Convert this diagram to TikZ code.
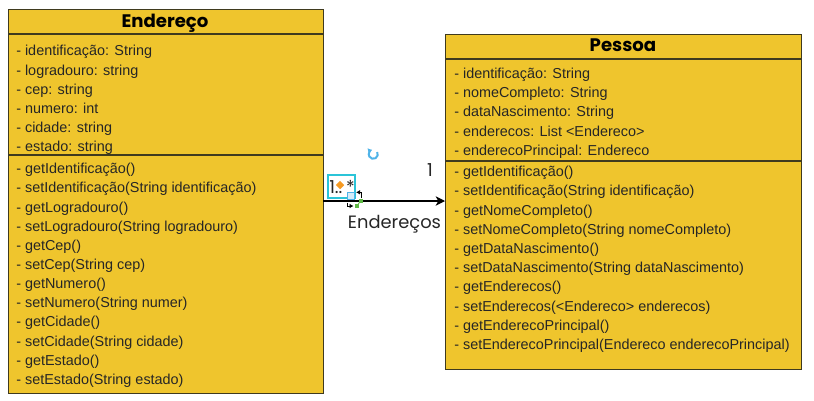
\documentclass[tikz,border=0pt]{standalone}
\usepackage{fontspec}
\setmainfont{Liberation Sans}
\newfontfamily\titlefont{Poppins}
\usetikzlibrary{positioning,arrows.meta}
\definecolor{classfill}{HTML}{EFC52D}
\definecolor{classline}{HTML}{3F3A1E}
\definecolor{handlecyan}{HTML}{2BC4D8}
\definecolor{handleblue}{HTML}{4FB3E8}
\definecolor{handleorange}{HTML}{F59A23}
\definecolor{handlegreen}{HTML}{5FB946}
\begin{document}
\begin{tikzpicture}[x=0.75pt,y=-0.75pt]
  \tikzstyle{classbox} = [draw=classline,fill=classfill,line width=0.9pt,inner sep=0pt,anchor=north west] %class outline
  \tikzstyle{sep} = [draw=classline,line width=0.9pt] %compartment line
  \tikzstyle{title} = [font=\titlefont\bfseries\fontsize{13.6}{15}\selectfont,text=black,anchor=base]
  \tikzstyle{member} = [font=\fontsize{10.8}{12}\selectfont,text=black!85,anchor=base west,inner sep=0pt,yshift=-4.1pt]
  \tikzstyle{lbl} = [font=\titlefont\fontsize{13.4}{15}\selectfont,text=black!85,anchor=base,inner sep=0pt]
  \tikzstyle{tinyarrow} = [-{Latex[length=3pt,width=3.5pt]},line width=0.6pt]
  \tikzstyle{greendot} = [fill=handlegreen,minimum size=3pt,inner sep=0pt]
  \useasboundingbox (0,0) rectangle (814,400);
  % Endereco
  \node[classbox,minimum width=315*0.75pt,minimum height=384*0.75pt](endereco)at(8,9){};
  \node[title]at(165,27){Endereço};
  \coordinate(ea)at(8,34);
  \coordinate(eb)at(323,34);
  \coordinate(ec)at(8,155);
  \coordinate(ed)at(323,155);
  \draw[sep](ea)--(eb);
  \draw[sep](ec)--(ed);
  \foreach \y/\t in {50.5/identificação: String,70/logradouro: string,89/cep: string,
    108/numero: int,127/cidade: string,146/estado: string,
    168/getIdentificação(),187/setIdentificação(String identificação),
    207/getLogradouro(),226/setLogradouro(String logradouro),245/getCep(),
    264/setCep(String cep),283/getNumero(),302/setNumero(String numer),
    321/getCidade(),341/setCidade(String cidade),360/getEstado(),379/setEstado(String estado)}
    \node[member]at(16,\y){- \t};
  % Pessoa
  \node[classbox,minimum width=356*0.75pt,minimum height=335*0.75pt](pessoa)at(445,34){};
  \node[title]at(623,51.7){Pessoa};
  \coordinate(pa)at(445,59);
  \coordinate(pb)at(801,59);
  \coordinate(pc)at(445,161);
  \coordinate(pd)at(801,161);
  \draw[sep](pa)--(pb);
  \draw[sep](pc)--(pd);
  \foreach \y/\t in {73/identificação: String,92/nomeCompleto: String,111/dataNascimento: String,
    131/enderecos: List <Endereco>,150/enderecoPrincipal: Endereco,
    171/getIdentificação(),190/setIdentificação(String identificação),
    210/getNomeCompleto(),229/setNomeCompleto(String nomeCompleto),
    248/getDataNascimento(),267/setDataNascimento(String dataNascimento),
    286/getEnderecos(),306/setEnderecos(<Endereco> enderecos),
    325/getEnderecoPrincipal(),344/setEnderecoPrincipal(Endereco enderecoPrincipal)}
    \node[member]at(454,\y){- \t};
  % association
  \coordinate(from)at(323,201);
  \coordinate(to)at(445,201);
  \draw[-{Stealth[length=7pt,width=7pt,inset=2pt]},line width=0.9pt,black](from)--(to);
  \node[lbl](rolename)at(394.5,228){Endereços};
  \node[lbl](multone)at(430,176){1};
  % editor handles
  \node[draw=handlecyan,line width=1.5pt,minimum width=27*0.75pt,minimum height=22.5*0.75pt,inner sep=0pt,anchor=north west](handle)at(327.3,174.3){};
  \node[lbl,anchor=base west](multmany)at(329,193){1..};
  \node[lbl](star)at(350.5,193){*};
  \node[fill=handleorange,draw=none,rotate=45,minimum size=4.5pt,inner sep=0pt](dia)at(340,185){};
  \node[draw=handleblue,fill=handleblue!25,minimum size=5pt,inner sep=0pt,line width=0.7pt](sq)at(351,196){};
  \node[greendot](ga)at(360.7,200.7){};
  \node[greendot](gb)at(356.7,206){};
  \draw[handlegreen,line width=0.8pt](ga)--(gb);
  \coordinate(ra)at(356,192.3);
  \coordinate(rb)at(361.7,198);
  \coordinate(rc)at(347.3,202.7);
  \coordinate(rd)at(353.5,206);
  \draw[tinyarrow](rb)|-(ra);
  \draw[tinyarrow](rc)|-(rd);
  \coordinate(spin)at(377.2,152);
  \draw[handleblue,line width=1.5pt,-{Latex[length=3pt,width=4.5pt]}](spin)arc[start angle=30,end angle=-255,radius=3.4pt];
\end{tikzpicture}
\end{document}
